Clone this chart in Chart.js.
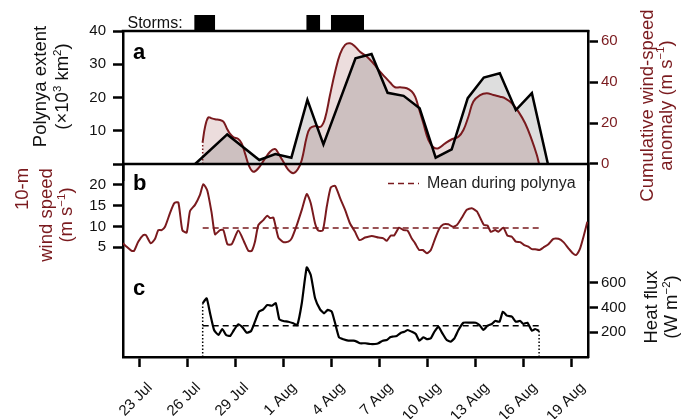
<!DOCTYPE html>
<html>
<head>
<meta charset="utf-8">
<script src="https://cdn.jsdelivr.net/npm/chart.js@4.4.1/dist/chart.umd.min.js"></script>
<style>
  html, body { margin: 0; padding: 0; background: #fff; }
  #wrap { position: relative; width: 683px; height: 419px; }
  #wrap canvas { position: absolute; left: 0; top: 0; }
</style>
</head>
<body>
<div id="wrap">
  <canvas id="panelBC" width="683" height="419"></canvas>
  <canvas id="panelA" width="683" height="419"></canvas>
</div>
<script>
const FONT = "'Liberation Sans', 'DejaVu Sans', Arial, sans-serif";
const RED = '#7a1a1e';
Chart.defaults.font.family = FONT;

// Time axis: days since 22 Jul 00:00
const tickDays = [1, 4, 7, 10, 13, 16, 19, 22, 25, 28];
const tickLabels = ['23 Jul', '26 Jul', '29 Jul', '1 Aug', '4 Aug', '7 Aug', '10 Aug', '13 Aug', '16 Aug', '19 Aug'];

// Storm periods [start, end] in days
const storms = [[4.45, 5.74], [11.44, 12.29], [12.97, 15.03]];

// Polynya open period
const polynyaStart = 4.97;
const polynyaEnd = 25.95;

// a: polynya extent (10^3 km^2), daily
const extentDay = [4.5, 6.5, 8.5, 9.5, 10.5, 11.5, 12.5, 14.5, 15.5, 16.5, 17.5, 18.5, 19.5, 20.5, 21.5, 22.5, 23.5, 24.5, 25.5, 26.5];
const extent = [0, 8.9, 1.2, 3.0, 1.9, 19.3, 5.9, 31.8, 33.1, 21.4, 20.5, 16.8, 1.9, 4.4, 19.8, 26.0, 27.3, 16.2, 21.3, 0];

// a: cumulative wind-speed anomaly (m s^-1)
const anomalyDay = [4.96, 5.12, 5.32, 5.53, 5.74, 6.05, 6.26, 6.47, 6.68, 6.88, 7.19, 7.40, 7.61, 7.88, 8.13, 8.44, 8.80, 9.17, 9.48, 9.69,
  10.00, 10.31, 10.62, 10.90, 11.15, 11.46, 11.67, 11.98, 12.33, 12.60, 12.91, 13.23, 13.54, 13.85, 14.16, 14.47, 14.78, 15.20, 15.61, 16.03,
  16.45, 16.66, 16.97, 17.28, 17.70, 18.01, 18.22, 18.42, 18.73, 19.05, 19.36, 19.67, 20.09, 20.51, 20.92, 21.23, 21.54, 21.85, 22.27, 22.69,
  23.10, 23.52, 23.83, 24.25, 24.66, 25.08, 25.50, 25.81, 25.95];
const anomaly = [10.4, 18.2, 22.8, 22.3, 21.9, 21.5, 20.7, 17.5, 14.7, 13.1, 12.2, 10.1, 5.2, -1.3, -3.8, -2.1, 2.0, 6.0, 7.3, 5.2,
  1.1, -2.9, -4.5, -2.6, 2.0, 13.3, 17.5, 18.6, 18.2, 22.3, 33.7, 45.1, 53.8, 58.2, 59.0, 57.4, 54.9, 52.5, 49.2, 45.1,
  41.6, 39.8, 37.5, 37.5, 37.0, 35.4, 32.9, 28.0, 19.9, 11.7, 8.2, 7.7, 10.1, 12.1, 13.3, 16.6, 23.1, 30.5, 33.7, 34.6,
  33.7, 32.9, 32.1, 29.7, 25.6, 19.9, 11.7, 4.4, 0];

// b: 10-m wind speed (m s^-1)
const windDay = [0.00, 0.23, 0.54, 0.69, 0.95, 1.27, 1.43, 1.73, 2.00, 2.20, 2.41, 2.62, 2.93, 3.20, 3.45, 3.70, 3.97, 4.18, 4.49, 4.80,
  5.01, 5.26, 5.53, 5.74, 6.05, 6.26, 6.51, 6.78, 7.19, 7.55, 7.82, 8.03, 8.23, 8.44, 8.75, 9.00, 9.17, 9.38, 9.69, 10.00,
  10.31, 10.52, 10.84, 11.15, 11.46, 11.71, 11.98, 12.18, 12.46, 12.71, 12.96, 13.23, 13.54, 13.85, 14.16, 14.47, 14.74, 15.10, 15.51, 15.93,
  16.24, 16.45, 16.70, 16.91, 17.22, 17.49, 17.74, 18.01, 18.22, 18.47, 18.70, 18.95, 19.20, 19.46, 19.73, 19.98, 20.29, 20.57, 20.82, 21.13,
  21.44, 21.75, 22.07, 22.31, 22.52, 22.73, 22.94, 23.21, 23.41, 23.72, 23.97, 24.25, 24.50, 24.77, 25.02, 25.28, 25.50, 25.70, 25.97, 26.22,
  26.53, 26.84, 27.16, 27.47, 27.78, 28.05, 28.26, 28.51, 28.72, 28.96];
const wind = [5.9, 5.1, 4.1, 4.1, 6.3, 7.9, 7.9, 5.9, 7.0, 9.1, 9.1, 9.9, 13.2, 15.6, 15.8, 9.1, 8.5, 13.7, 15.2, 17.6,
  20.2, 18.6, 13.2, 8.1, 9.1, 9.1, 5.7, 5.7, 9.0, 6.3, 4.1, 4.1, 6.3, 10.3, 11.5, 12.6, 12.0, 12.1, 7.3, 6.2,
  6.3, 7.1, 10.3, 14.0, 17.8, 15.6, 10.7, 9.0, 9.0, 14.8, 19.4, 19.8, 16.8, 14.0, 10.7, 8.7, 6.7, 7.3, 7.7, 7.3,
  7.1, 6.5, 7.8, 7.8, 9.7, 9.1, 9.0, 7.1, 5.9, 4.3, 4.3, 3.5, 4.3, 7.0, 9.5, 10.5, 10.5, 9.9, 10.3, 12.1,
  14.0, 14.4, 13.6, 11.8, 10.3, 10.2, 8.7, 9.1, 8.7, 9.7, 7.8, 7.5, 6.3, 6.2, 5.5, 5.1, 4.5, 4.5, 4.3, 4.9,
  5.7, 7.0, 7.0, 6.2, 4.7, 3.5, 3.1, 4.7, 7.5, 11.1];
const windMean = 9.6;

// c: heat flux (W m^-2)
const heatDay = [4.97, 5.22, 5.43, 5.68, 5.95, 6.19, 6.43, 6.68, 6.92, 7.19, 7.47, 7.72, 7.99, 8.23, 8.48, 8.75, 9.00, 9.28, 9.53, 9.75,
  10.00, 10.31, 10.62, 10.87, 11.15, 11.46, 11.71, 11.98, 12.29, 12.54, 12.77, 13.02, 13.23, 13.47, 13.74, 14.05, 14.37, 14.58, 14.78, 15.10,
  15.41, 15.72, 15.93, 16.20, 16.45, 16.66, 16.80, 17.07, 17.34, 17.55, 17.76, 18.01, 18.26, 18.48, 18.73, 18.95, 19.20, 19.42, 19.67, 19.92,
  20.19, 20.44, 20.67, 20.92, 21.23, 21.65, 22.00, 22.23, 22.48, 22.73, 23.00, 23.21, 23.48, 23.69, 23.94, 24.25, 24.50, 24.77, 24.97, 25.22,
  25.50, 25.70, 25.95];
const heat = [434, 474, 353, 218, 178, 226, 178, 170, 218, 264, 237, 196, 210, 285, 366, 385, 420, 414, 434, 304,
  291, 285, 272, 258, 434, 724, 662, 474, 385, 353, 380, 366, 272, 159, 143, 132, 132, 124, 111, 111,
  105, 105, 111, 132, 137, 159, 164, 170, 196, 204, 218, 204, 186, 132, 159, 145, 151, 204, 245, 191,
  137, 124, 151, 218, 277, 277, 277, 258, 218, 253, 267, 291, 285, 366, 334, 326, 285, 291, 267, 277,
  212, 226, 210];
const heatMean = 253;

const pts = (xs, ys) => xs.map((x, i) => ({ x, y: ys[i] }));

// Text with superscript parts, rotated to read bottom-to-top
function partsWidth(ctx, parts, size) {
  let w = 0;
  for (const [t, sup] of parts) {
    ctx.font = `${sup ? size * 0.62 : size}px ${FONT}`;
    w += ctx.measureText(t).width;
  }
  return w;
}
function vText(ctx, parts, baseX, centerY, size, color) {
  ctx.save();
  ctx.translate(baseX, centerY);
  ctx.rotate(-Math.PI / 2);
  ctx.fillStyle = color;
  ctx.textAlign = 'left';
  ctx.textBaseline = 'alphabetic';
  let x = -partsWidth(ctx, parts, size) / 2;
  for (const [t, sup] of parts) {
    ctx.font = `${sup ? size * 0.62 : size}px ${FONT}`;
    ctx.fillText(t, x, sup ? -size * 0.38 : 0);
    x += ctx.measureText(t).width;
  }
  ctx.restore();
}

function yAxis(pos, min, max, ticks, labelColor, cb) {
  return {
    position: pos, min, max,
    afterBuildTicks: ax => { ax.ticks = ticks.map(v => ({ value: v })); },
    afterFit: ax => { ax.width = pos === 'left' ? 123 : 95; },
    grid: { display: true, drawOnChartArea: false, drawTicks: true, tickLength: 10, tickWidth: 2.5, tickColor: '#000' },
    border: { display: true, color: '#000', width: 2.5 },
    ticks: {
      color: labelColor, font: { size: 15, family: FONT },
      padding: pos === 'left' ? 7 : 3,
      callback: cb || (v => String(v))
    }
  };
}

// ---------- Panel a ----------
const panelADecor = {
  id: 'panelADecor',
  afterDraw(chart) {
    const { ctx, chartArea: ca, scales } = chart;
    const xs = scales.x;
    const y0 = scales.yExt.getPixelForValue(0);
    ctx.save();
    ctx.strokeStyle = '#000';
    ctx.lineWidth = 2.5;
    ctx.beginPath();
    ctx.moveTo(ca.left - 1.25, ca.top); ctx.lineTo(ca.right + 1.25, ca.top);
    ctx.moveTo(ca.left, y0); ctx.lineTo(ca.right, y0);
    ctx.stroke();

    // storm bars
    ctx.fillStyle = '#000';
    for (const [s, e] of storms) {
      const x0 = xs.getPixelForValue(s), x1 = xs.getPixelForValue(e);
      ctx.fillRect(x0, 15, x1 - x0, ca.top - 15);
    }
    ctx.font = `16px ${FONT}`;
    ctx.textAlign = 'left';
    ctx.textBaseline = 'alphabetic';
    ctx.fillStyle = '#111';
    ctx.fillText('Storms:', 127.5, 27.5);
    ctx.fillStyle = '#000';
    ctx.font = `bold 22px ${FONT}`;
    ctx.fillText('a', 133, 58.5);

    vText(ctx, [['Polynya extent']], 45.5, 86.5, 18.5, '#111');
    vText(ctx, [['(×10'], ['3', true], [' km'], ['2', true], [')']], 68, 86.5, 18.5, '#111');
    vText(ctx, [['Cumulative wind-speed']], 653, 105.5, 18.5, RED);
    vText(ctx, [['anomaly (m s'], ['−1', true], [')']], 671.5, 105.5, 18.5, RED);
    ctx.restore();
  }
};

new Chart(document.getElementById('panelA'), {
  type: 'line',
  data: {
    datasets: [
      {
        label: 'Polynya extent', data: pts(extentDay, extent), yAxisID: 'yExt',
        borderColor: '#000', borderWidth: 2.5, backgroundColor: 'rgba(0,0,0,0.13)',
        fill: 'origin', pointRadius: 0, tension: 0, order: 1, borderJoinStyle: 'miter'
      },
      {
        label: 'Cumulative wind-speed anomaly', data: pts(anomalyDay, anomaly), yAxisID: 'yAnom',
        borderColor: RED, borderWidth: 2, backgroundColor: 'rgba(125,26,30,0.15)',
        fill: 'origin', pointRadius: 0, tension: 0.4, order: 2
      },
      {
        label: 'Anomaly start', data: [{ x: polynyaStart, y: 0 }, { x: polynyaStart, y: anomaly[0] }], yAxisID: 'yAnom',
        borderColor: RED, borderWidth: 1.5, borderDash: [1.5, 2], pointRadius: 0, fill: false, order: 3
      }
    ]
  },
  options: {
    responsive: false, animation: false, devicePixelRatio: 1, events: [],
    layout: { padding: { left: 0, right: 0, top: 31, bottom: 239 } },
    plugins: { legend: { display: false }, tooltip: { enabled: false }, filler: { drawTime: 'beforeDatasetsDraw' } },
    scales: {
      x: { type: 'linear', display: false, min: 0, max: 29 },
      yExt: yAxis('left', -4.81, 40, [0, 10, 20, 30, 40], '#111', v => (v === 0 ? '' : String(v))),
      yAnom: yAxis('right', -7.82, 65.0, [0, 20, 40, 60], RED)
    }
  },
  plugins: [panelADecor]
});

// ---------- Panels b and c ----------
const panelBCDecor = {
  id: 'panelBCDecor',
  afterDraw(chart) {
    const { ctx } = chart;
    ctx.save();
    ctx.fillStyle = '#000';
    ctx.textAlign = 'left';
    ctx.textBaseline = 'alphabetic';
    ctx.font = `bold 22px ${FONT}`;
    ctx.fillText('b', 133, 190);
    ctx.fillText('c', 133, 295);

    // legend for the mean line
    const meanDs = chart.data.datasets[1];
    ctx.strokeStyle = meanDs.borderColor;
    ctx.lineWidth = meanDs.borderWidth;
    ctx.setLineDash(meanDs.borderDash);
    ctx.beginPath();
    ctx.moveTo(388, 183.5); ctx.lineTo(419, 183.5);
    ctx.stroke();
    ctx.setLineDash([]);
    ctx.fillStyle = '#222';
    ctx.font = `16px ${FONT}`;
    ctx.textBaseline = 'middle';
    ctx.fillText(meanDs.label, 427, 183.5);

    vText(ctx, [['10-m']], 28, 189, 18.5, RED);
    vText(ctx, [['wind speed']], 52, 215, 18.5, RED);
    vText(ctx, [['(m s'], ['−1', true], [')']], 72, 215, 18.5, RED);
    vText(ctx, [['Heat flux']], 656.5, 307, 18.5, '#111');
    vText(ctx, [['(W m'], ['−2', true], [')']], 677, 307, 18.5, '#111');
    ctx.restore();
  }
};

new Chart(document.getElementById('panelBC'), {
  type: 'line',
  data: {
    datasets: [
      {
        label: '10-m wind speed', data: pts(windDay, wind), yAxisID: 'yWind',
        borderColor: RED, borderWidth: 2, pointRadius: 0, tension: 0.2, fill: false
      },
      {
        label: 'Mean during polynya', data: [{ x: polynyaStart, y: windMean }, { x: polynyaEnd, y: windMean }], yAxisID: 'yWind',
        borderColor: RED, borderWidth: 1.5, borderDash: [6, 4], pointRadius: 0, fill: false
      },
      {
        label: 'Heat flux', data: pts(heatDay, heat), yAxisID: 'yHeat',
        borderColor: '#000', borderWidth: 2.2, pointRadius: 0, tension: 0.15, fill: false
      },
      {
        label: 'Heat flux mean', data: [{ x: polynyaStart, y: heatMean }, { x: polynyaEnd, y: heatMean }], yAxisID: 'yHeat',
        borderColor: '#000', borderWidth: 1.5, borderDash: [6, 4], pointRadius: 0, fill: false
      },
      {
        label: 'Polynya opens', data: [{ x: polynyaStart, y: 0 }, { x: polynyaStart, y: heat[0] }], yAxisID: 'yHeat',
        borderColor: '#000', borderWidth: 1.5, borderDash: [1.5, 2], pointRadius: 0, fill: false
      },
      {
        label: 'Polynya closes', data: [{ x: polynyaEnd, y: 0 }, { x: polynyaEnd, y: heat[heat.length - 1] }], yAxisID: 'yHeat',
        borderColor: '#000', borderWidth: 1.5, borderDash: [1.5, 2], pointRadius: 0, fill: false
      }
    ]
  },
  options: {
    responsive: false, animation: false, devicePixelRatio: 1, events: [],
    layout: { padding: { left: 0, right: 0, top: 164, bottom: 0 } },
    plugins: { legend: { display: false }, tooltip: { enabled: false } },
    scales: {
      x: {
        type: 'linear', min: 0, max: 29,
        afterBuildTicks: ax => { ax.ticks = tickDays.map(v => ({ value: v })); },
        afterFit: ax => { ax.height = 62; },
        grid: { display: true, drawOnChartArea: false, drawTicks: true, tickLength: 10, tickWidth: 2.5, tickColor: '#000' },
        border: { display: true, color: '#000', width: 2.5 },
        ticks: {
          autoSkip: false, maxRotation: 45, minRotation: 45, padding: 12, labelOffset: 11,
          color: '#111', font: { size: 15, family: FONT },
          callback: v => tickLabels[tickDays.indexOf(v)]
        }
      },
      yWind: yAxis('left', -21.55, 25.07, [5, 10, 15, 20], '#111'),
      yHeat: yAxis('right', 0, 1558.6, [200, 400, 600], '#111')
    }
  },
  plugins: [panelBCDecor]
});
</script>
</body>
</html>
